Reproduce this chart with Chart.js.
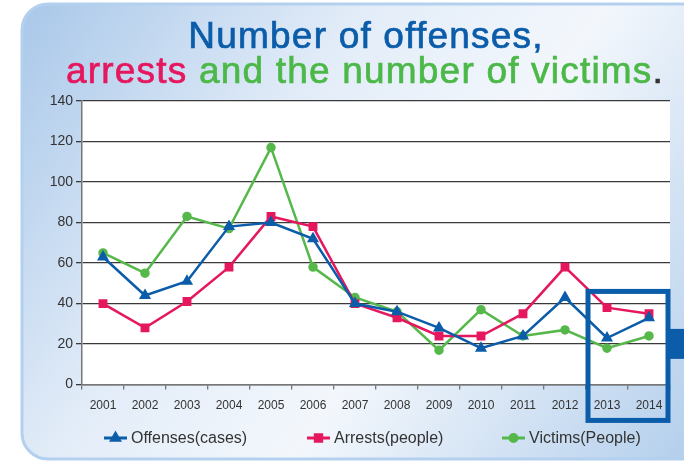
<!DOCTYPE html>
<html>
<head>
<meta charset="utf-8">
<script src="https://cdn.jsdelivr.net/npm/chart.js@4.4.1/dist/chart.umd.min.js"></script>
<style>
  html, body { margin: 0; padding: 0; background: #fff; }
  #wrap { width: 684px; height: 461px; position: relative; }
</style>
</head>
<body>
<div id="wrap"><canvas id="c" width="684" height="461"></canvas></div>
<script>
const years = ["2001", "2002", "2003", "2004", "2005", "2006", "2007", "2008", "2009", "2010", "2011", "2012", "2013", "2014"];
const offenses = [63, 44, 51, 78, 80, 72, 40, 36, 28, 18, 24, 43, 23, 33];
const arrests = [40, 28, 41, 58, 83, 78, 40, 33, 24, 24, 35, 58, 38, 35];
const victims = [65, 55, 83, 77, 117, 58, 43, 36, 17, 37, 24, 27, 18, 24];
const yTicks = [0, 20, 40, 60, 80, 100, 120, 140];
const seriesNames = ["Offenses(cases)", "Arrests(people)", "Victims(People)"];

const BLUE = "#0b5ca9", RED = "#e5175e", GREEN = "#56b84a";
const FONT = "'Liberation Sans', Arial, sans-serif";

// background panel, white plot area, title
const panel = {
  id: "panel",
  beforeDraw(chart) {
    const { ctx, chartArea: a } = chart;
    ctx.save();
    const g = ctx.createLinearGradient(20, 0, 684, 461);
    g.addColorStop(0, "#a8c7e9");
    g.addColorStop(0.35, "#e2ecf8");
    g.addColorStop(0.6, "#f3f7fc");
    g.addColorStop(1, "#b4cfec");
    ctx.beginPath();
    ctx.roundRect(22, 4, 700, 455, 26);
    ctx.fillStyle = g;
    ctx.fill();
    ctx.lineWidth = 3;
    ctx.strokeStyle = "#b3d0ee";
    ctx.stroke();
    ctx.fillStyle = "#fff";
    ctx.fillRect(a.left, a.top, a.right - a.left, a.bottom - a.top);

    ctx.font = "37px " + FONT;
    ctx.letterSpacing = "1.2px";
    ctx.textBaseline = "alphabetic";
    ctx.textAlign = "left";
    ctx.lineWidth = 0.7;
    const put = (t, c, x, y) => {
      ctx.fillStyle = c; ctx.strokeStyle = c;
      ctx.fillText(t, x, y); ctx.strokeText(t, x, y);
    };
    const l1 = "Number of offenses,";
    put(l1, BLUE, 366 - ctx.measureText(l1).width / 2, 48);
    const parts = [["arrests", RED], [" and the number of victims", "#4cb848"], [".", "#333"]];
    const total = parts.reduce((s, p) => s + ctx.measureText(p[0]).width, 0);
    let x = 365 - total / 2;
    parts.forEach(([t, c]) => { put(t, c, x, 83); x += ctx.measureText(t).width; });
    ctx.restore();
  },
  afterDraw(chart) {
    const { ctx, chartArea: a, scales } = chart;
    const xs = scales.x, ys = scales.y;
    ctx.save();
    // frame around the last two years
    const left = (xs.getPixelForValue(11) + xs.getPixelForValue(12)) / 2;
    ctx.strokeStyle = BLUE;
    ctx.lineWidth = 5;
    ctx.strokeRect(left + 2, ys.getPixelForValue(46), a.right - left - 4, 129);
    ctx.fillStyle = BLUE;
    ctx.fillRect(a.right, ys.getPixelForValue(27.5), 20, 30);

    // legend
    const pos = [104, 307, 502];
    const y = 438;
    ctx.font = "16px " + FONT;
    ctx.textBaseline = "middle";
    chart.data.datasets.forEach((d, i) => {
      ctx.strokeStyle = d.borderColor;
      ctx.fillStyle = d.borderColor;
      ctx.lineWidth = 3;
      ctx.beginPath();
      ctx.moveTo(pos[i], y);
      ctx.lineTo(pos[i] + 23, y);
      ctx.stroke();
      Chart.helpers.drawPoint(ctx, { pointStyle: d.pointStyle, radius: d.pointRadius, borderWidth: 1 }, pos[i] + 11.5, y);
      ctx.fillStyle = "#333";
      ctx.fillText(d.label, pos[i] + 27, y + 1);
    });
    ctx.restore();
  }
};

function ds(label, data, color, style, r) {
  return {
    label, data, borderColor: color, backgroundColor: color,
    pointBackgroundColor: color, pointBorderColor: color,
    pointStyle: style, pointRadius: r, pointHoverRadius: r,
    borderWidth: 2.5, tension: 0, fill: false
  };
}

new Chart(document.getElementById("c"), {
  type: "line",
  data: {
    labels: years,
    datasets: [
      ds(seriesNames[0], offenses, BLUE, "triangle", 4.5),
      ds(seriesNames[1], arrests, RED, "rect", 4.5),
      ds(seriesNames[2], victims, GREEN, "circle", 3.5)
    ]
  },
  options: {
    responsive: false,
    animation: false,
    layout: { padding: { top: 101, left: 20, right: 14, bottom: 39 } },
    plugins: { legend: { display: false }, title: { display: false }, tooltip: { enabled: false } },
    scales: {
      x: {
        offset: true,
        grid: { offset: true, drawOnChartArea: false, tickLength: 5, color: "#777", lineWidth: 1.3 },
        border: { color: "#777", width: 1.5 },
        ticks: { color: "#333", font: { family: FONT, size: 12 }, padding: 9, maxRotation: 0, autoSkip: false }
      },
      y: {
        min: 0, max: 140,
        afterBuildTicks(s) { s.ticks = yTicks.map(v => ({ value: v })); },
        afterFit(s) { s.width = 62; },
        grid: { color: "#3a3a3a", lineWidth: 1.3, tickLength: 6 },
        border: { color: "#777", width: 1.5 },
        ticks: { color: "#333", font: { family: FONT, size: 14 }, padding: 3 }
      }
    }
  },
  plugins: [panel]
});
</script>
</body>
</html>
